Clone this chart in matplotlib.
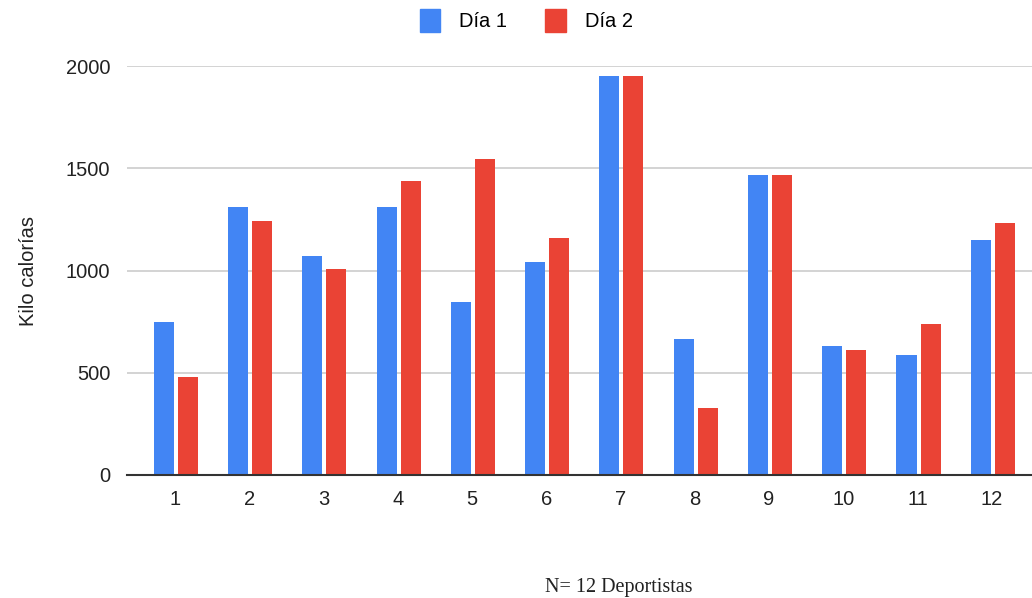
import numpy as np
import matplotlib.pyplot as plt
from matplotlib.patches import Patch

atletas = [str(i) for i in range(1, 13)]
dia1 = [747, 1312, 1069, 1312, 845, 1042, 1950, 665, 1466, 631, 585, 1149]
dia2 = [478, 1240, 1006, 1436, 1544, 1157, 1950, 326, 1466, 611, 738, 1231]

azul = "#4285F4"
rojo = "#EA4335"

plt.rcParams['font.family'] = ['Liberation Sans', 'DejaVu Sans']

fig = plt.figure(figsize=(10.32, 5.98), dpi=100)
ax = fig.add_axes([0.123, 0.2057, 0.877, 0.6839])

x = np.arange(1, 13)
ancho = 0.27
ax.bar(x - 0.15, dia1, ancho, color=azul, zorder=3)
ax.bar(x + 0.174, dia2, ancho, color=rojo, zorder=3)

ax.set_xlim(0.354, 12.54)
ax.set_ylim(0, 2000)
ax.set_yticks([0, 500, 1000, 1500, 2000])
ax.set_xticks(x)
ax.set_xticklabels(atletas)
ax.tick_params(axis='both', length=0, labelsize=14.5, colors='#222222')
ax.tick_params(axis='x', pad=11)
ax.tick_params(axis='y', pad=12)
ax.yaxis.grid(True, color='#cccccc', linewidth=1.2, zorder=0)
for s in ['top', 'right', 'left']:
    ax.spines[s].set_visible(False)
ax.spines['bottom'].set_color('#333333')
ax.spines['bottom'].set_linewidth(1.5)
ax.spines['bottom'].set_zorder(4)

ax.set_ylabel("Kilo calorías", fontsize=14.5, color='#222222', labelpad=20)

handles = [Patch(color=azul, label="Día 1"), Patch(color=rojo, label="Día 2")]
fig.legend(handles=handles, loc='center', bbox_to_anchor=(0.51, 0.966), ncol=2,
           frameon=False, fontsize=14.5, handlelength=1.0, handleheight=1.4,
           columnspacing=1.9, handletextpad=0.95)

fig.text(0.6, 0.017, "N= 12 Deportistas", ha='center', va='center',
         fontsize=14.5, family=['Liberation Serif', 'DejaVu Serif'], color='#222222')

fig.savefig("out.png", dpi=100)
